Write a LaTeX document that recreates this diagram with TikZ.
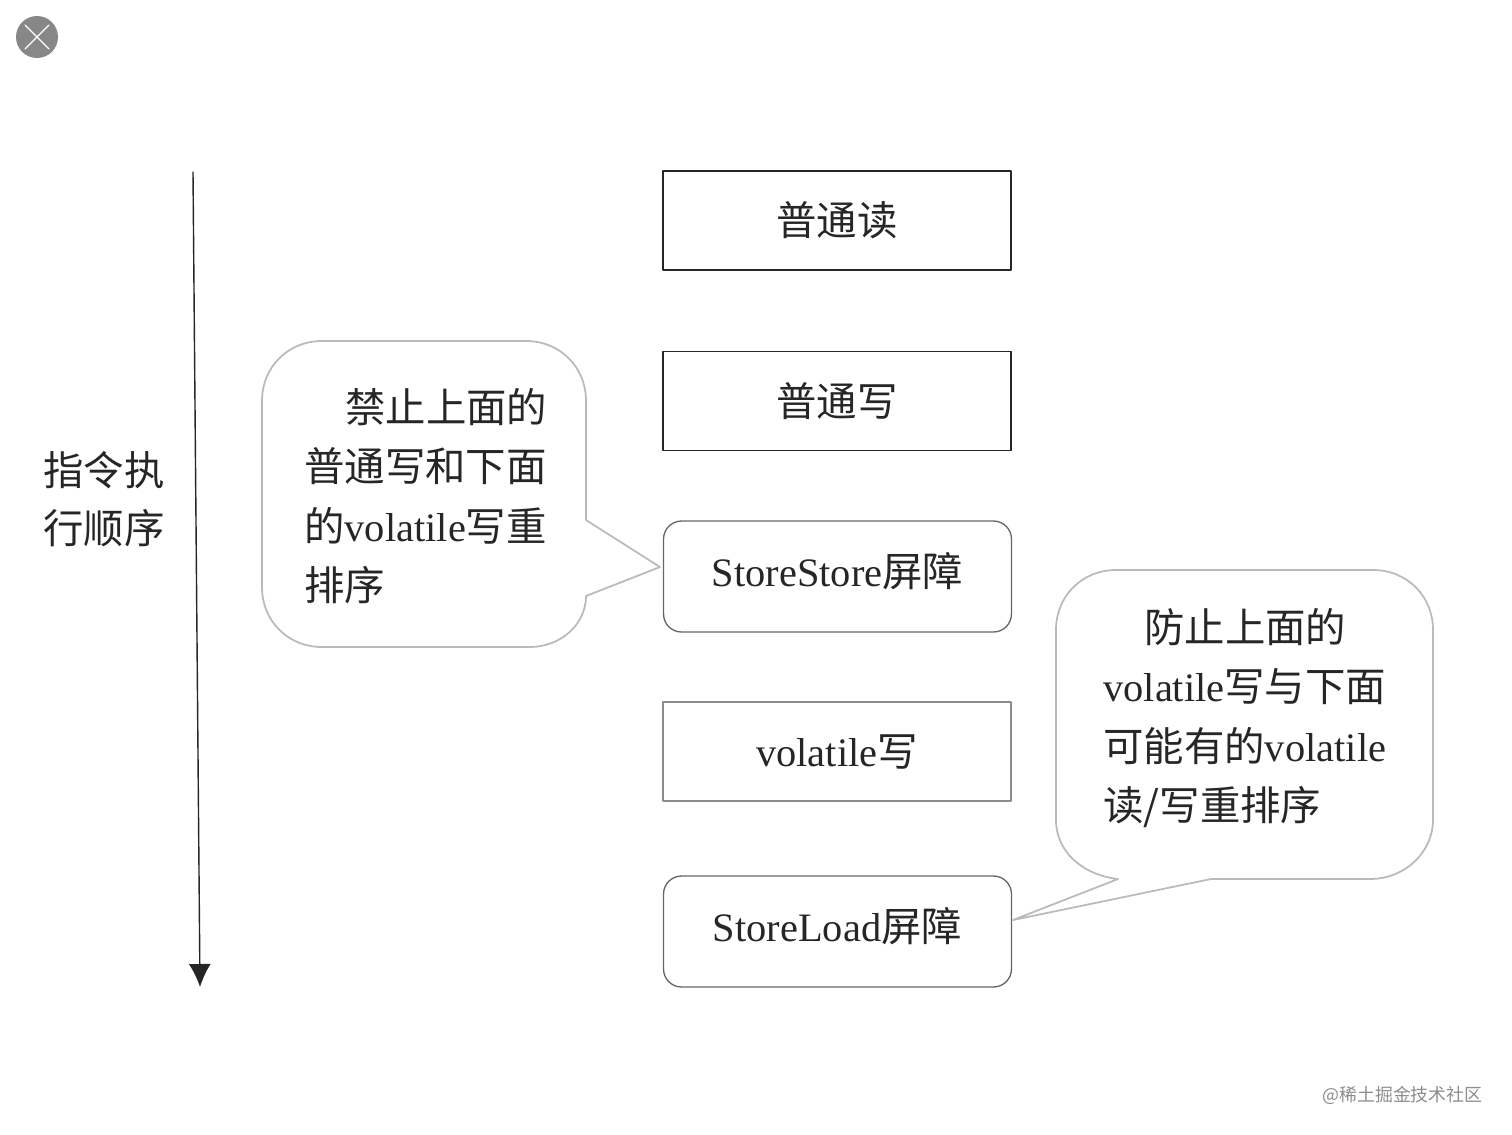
\documentclass[tikz,border=0pt]{standalone}
\usepackage{fontspec}
\setmainfont{Liberation Serif}
\newfontfamily\cjk{Noto Sans CJK SC}
\usetikzlibrary{arrows.meta}
\newcommand{\zh}[1]{{\cjk #1}}
\begin{document}
\begin{tikzpicture}
     [x=0.02cm,y=-0.02cm,line cap=round,line join=round,
     %boxes of the middle column
     opbox/.style={draw=black!85,line width=0.75pt,inner sep=0pt,minimum width=6.96cm,minimum height=1.98cm,text=black!85},
     fencebox/.style={opbox,draw=black!60,rounded corners=0.36cm,minimum height=2.22cm,text height=0.66cm,text depth=0.26cm},
     %speech bubbles
     bubble/.style={draw=black!27,line width=1pt},
     bubbletext/.style={align=left,inner sep=0pt,text=black!85,font=\fontsize{23}{33.8}\selectfont},
     every node/.append style={font=\fontsize{23}{33.8}\selectfont}]

\useasboundingbox (0,0) rectangle (1512,1134);

%close button
  \fill[black!47] (37,37) circle (21);
  \draw[white,line width=0.7pt] (25,25) -- (49,49);
  \draw[white,line width=0.7pt] (49,25) -- (25,49);

%time axis
  \coordinate (axistop) at (193,172);
  \coordinate (axisend) at (200,987);
  \draw[-{Latex[length=0.46cm,width=0.44cm]},black!85,line width=0.8pt] (axistop) -- (axisend);
  \node[align=center,inner sep=0pt,text=black!85] (axislabel) at (104,499) {\zh{指令执}\\[-0.5pt]\zh{行顺序}};

%the operations
  \node[opbox] (rdbox) at (837,220.5) {\zh{普通读}};
  \node[opbox] (wrbox) at (837,401) {\zh{普通写}};
  \node[fencebox] (ssbox) at (837.5,576.5) {StoreStore\zh{屏障}};
  \node[opbox,draw=black!45] (vwbox) at (837,751.5) {volatile\zh{写}};
  \node[fencebox] (slbox) at (837.5,931.5) {StoreLoad\zh{屏障}};

%left bubble
  \coordinate (sstip) at (660,567);
  \draw[bubble] (322,341) -- (526,341) .. controls (560,341) and (586,367) .. (586,401)
     -- (586,520) -- (sstip) -- (586,596)
     .. controls (586,625) and (560,647) .. (530,647) -- (322,647)
     .. controls (288,647) and (262,621) .. (262,587) -- (262,401)
     .. controls (262,367) and (288,341) .. (322,341) -- cycle;
  \node[bubbletext,anchor=west] (ssnote) at (304,496)
     {\hspace{0.82cm}\zh{禁止上面的}\\\zh{普通写和下面}\\\zh{的}volatile\zh{写重}\\\zh{排序}};

%right bubble
  \coordinate (sltip) at (1013,920);
  \draw[bubble] (1116,570) -- (1373,570) .. controls (1407,570) and (1433,596) .. (1433,630)
     -- (1433,820) .. controls (1433,852) and (1405,879) .. (1370,879) -- (1211,879)
     -- (sltip) -- (1118,879) .. controls (1083,875) and (1056,852) .. (1056,820)
     -- (1056,630) .. controls (1056,596) and (1082,570) .. (1116,570) -- cycle;
  \node[bubbletext,anchor=west] (slnote) at (1103,718)
     {\hspace{0.82cm}\zh{防止上面的}\\volatile\zh{写与下面}\\\zh{可能有的}volatile\\\zh{读/写重排序}};

%watermark
  \node[anchor=east,inner sep=0pt,text=black!45,font=\fontsize{10.2}{12}\selectfont] (mark) at (1483,1095) {\zh{@稀土掘金技术社区}};
\end{tikzpicture}
\end{document}
